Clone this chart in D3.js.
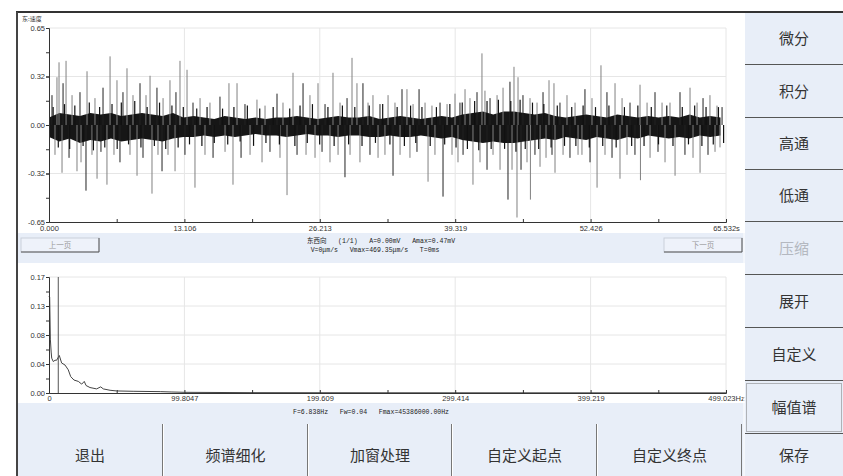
<!DOCTYPE html>
<meta charset="utf-8">
<style>
body { margin: 0; background: #fff; }
svg { display: block; font-family: "Liberation Mono", "Noto Sans CJK SC", monospace; }
.cn { font-family: "Noto Sans CJK SC", sans-serif; }
.info { white-space: pre; }
</style>
<svg width="843" height="476"></svg>
<script src="https://d3js.org/d3.v7.min.js"></script>
<script>
// ---- waveform (top) ----
const waveXTicks = [0, 13.106, 26.213, 39.319, 52.426, 65.532];
const waveXLabels = ["0.000", "13.106", "26.213", "39.319", "52.426", "65.532s"];
const waveYTicks = [-0.65, -0.325, 0, 0.325, 0.65];
const waveYLabels = ["-0.65", "-0.32", "0.00", "0.32", "0.65"];

// dense core of the signal, envelope per second (t = 0..65)
const bandHi = [.05,.08,.07,.06,.08,.07,.08,.06,.07,.08, .07,.06,.08,.05,.06,.05,.04,.06,.05,.04,
  .05,.04,.05,.05,.06,.05,.04,.05,.06,.05, .05,.06,.04,.05,.06,.05,.04,.05,.06,.05,
  .07,.08,.09,.07,.09,.09,.08,.07,.08,.06, .05,.06,.07,.06,.05,.07,.06,.05,.06,.05,
  .06,.05,.07,.05,.06,.05];
const bandLo = [-.08,-.11,-.09,-.12,-.10,-.11,-.09,-.11,-.10,-.09, -.10,-.11,-.09,-.08,-.08,-.07,-.08,-.07,-.08,-.07,
  -.06,-.07,-.07,-.08,-.07,-.06,-.07,-.07,-.08,-.07, -.07,-.08,-.08,-.07,-.08,-.08,-.07,-.08,-.09,-.08,
  -.10,-.11,-.12,-.11,-.12,-.12,-.11,-.10,-.09,-.10, -.08,-.09,-.10,-.08,-.09,-.10,-.08,-.09,-.07,-.08,
  -.09,-.08,-.09,-.07,-.08,-.07];

// positive peaks (s, value)
const upT = [0.29,0.77,0.97,1.36,1.65,2.23,3.00,3.68,4.45,5.23,5.91,6.58,7.16,7.55,8.13,8.81,9.39,9.78,10.45,11.04,
  11.71,12.29,12.68,13.36,13.94,14.62,15.58,16.55,17.42,18.20,18.97,20.13,20.91,22.07,22.65,23.62,24.59,25.26,26.04,26.72,
  27.49,28.17,28.85,29.33,29.81,30.39,30.88,31.36,32.04,32.82,33.49,34.17,34.65,35.24,35.82,36.40,37.07,37.85,38.53,39.30,
  39.78,40.27,40.75,41.43,41.91,42.20,42.69,43.37,43.95,44.62,45.01,45.40,45.88,46.56,47.24,47.82,48.40,48.88,49.46,50.14,
  50.92,51.88,52.56,53.43,54.01,54.79,55.47,56.24,57.21,57.89,58.66,59.34,60.11,61.08,62.05,62.73,63.31,63.98,64.66,65.15];
const upV = [0.20,0.32,0.42,0.28,0.43,0.20,0.22,0.36,0.18,0.25,0.46,0.30,0.22,0.38,0.20,0.28,0.20,0.33,0.25,0.18,
  0.30,0.22,0.43,0.37,0.15,0.18,0.15,0.19,0.28,0.28,0.14,0.17,0.13,0.21,0.15,0.35,0.28,0.20,0.28,0.14,
  0.35,0.15,0.18,0.45,0.28,0.28,0.15,0.20,0.14,0.20,0.15,0.24,0.24,0.14,0.24,0.15,0.13,0.15,0.14,0.21,
  0.15,0.24,0.18,0.22,0.48,0.23,0.18,0.20,0.25,0.29,0.39,0.32,0.20,0.18,0.15,0.22,0.30,0.28,0.15,0.20,
  0.15,0.24,0.18,0.40,0.22,0.28,0.18,0.15,0.27,0.15,0.22,0.15,0.15,0.22,0.25,0.15,0.18,0.20,0.13,0.12];
// negative peaks (s, value)
const dnT = [0.58,1.26,1.94,2.71,3.10,3.58,4.16,4.65,5.03,5.61,6.29,6.87,7.84,8.52,9.10,9.97,10.55,10.94,11.52,12.20,
  13.16,14.13,15.10,15.88,17.04,17.81,18.59,19.46,20.62,21.39,22.36,23.04,24.01,24.88,25.75,26.43,27.20,27.98,28.65,29.14,
  30.10,31.07,31.85,32.52,33.30,33.98,34.94,35.62,36.69,37.36,38.14,39.01,39.59,40.08,41.04,41.72,42.40,42.98,43.66,44.43,
  44.82,45.30,45.69,46.27,46.60,47.04,47.53,48.11,48.69,48.98,49.76,50.43,51.21,51.59,52.37,53.05,53.82,54.50,55.27,55.95,
  56.72,57.25,58.18,58.95,59.63,60.60,61.56,62.34,63.02,63.79,64.47,64.95];
const dnV = [-0.20,-0.32,-0.22,-0.31,-0.25,-0.44,-0.20,-0.36,-0.18,-0.40,-0.20,-0.25,-0.20,-0.34,-0.22,-0.46,-0.20,-0.31,-0.20,-0.31,
  -0.20,-0.42,-0.20,-0.22,-0.18,-0.40,-0.22,-0.20,-0.25,-0.18,-0.22,-0.47,-0.20,-0.20,-0.22,-0.18,-0.25,-0.20,-0.35,-0.20,
  -0.25,-0.20,-0.22,-0.20,-0.34,-0.20,-0.22,-0.18,-0.38,-0.20,-0.48,-0.20,-0.25,-0.20,-0.40,-0.25,-0.30,-0.20,-0.30,-0.50,
  -0.30,-0.62,-0.30,-0.25,-0.50,-0.20,-0.28,-0.22,-0.20,-0.32,-0.20,-0.22,-0.20,-0.20,-0.25,-0.42,-0.20,-0.22,-0.36,-0.20,
  -0.20,-0.37,-0.22,-0.18,-0.25,-0.34,-0.20,-0.22,-0.32,-0.20,-0.18,-0.15];
// short dark excursions just outside the core
const smallT = [0.4,0.9,1.5,2.0,2.5,3.3,3.9,4.3,4.9,5.4,6.1,6.6,7.0,7.7,8.3,8.9,9.5,10.2,10.7,11.3,
  11.9,12.5,13.0,13.6,14.3,14.8,15.3,16.0,16.8,17.3,17.9,18.5,19.2,19.8,20.4,21.0,21.7,22.3,23.3,23.8,
  24.3,25.0,25.5,26.2,27.0,27.6,28.4,29.0,29.6,30.3,31.0,31.6,32.3,33.0,33.7,34.4,35.0,35.5,36.1,36.9,
  37.5,38.3,38.8,39.4,40.0,40.5,41.2,41.6,42.4,42.8,43.5,44.1,44.7,45.2,45.6,46.1,46.8,47.4,47.9,48.6,
  49.2,49.9,50.6,51.0,51.7,52.3,52.9,53.6,54.2,54.9,55.7,56.4,57.0,57.6,58.3,59.0,59.8,60.4,61.3,61.9,
  62.5,63.2,63.6,64.3,64.8,65.3];
const smallV = [0.12,-0.15,0.14,-0.16,0.13,-0.14,0.15,-0.17,0.12,-0.15,0.14,-0.16,0.15,-0.13,0.16,-0.15,0.12,-0.14,0.15,-0.16,
  0.13,-0.15,0.12,-0.13,0.11,-0.14,0.12,-0.12,0.11,-0.13,0.12,-0.11,0.13,-0.14,0.11,-0.12,0.12,-0.13,0.11,-0.14,
  0.13,-0.12,0.14,-0.13,0.12,-0.14,0.13,-0.13,0.12,-0.14,0.13,-0.12,0.14,-0.13,0.12,-0.14,0.13,-0.12,0.12,-0.14,
  0.12,-0.13,0.14,-0.15,0.15,-0.16,0.16,-0.17,0.16,-0.16,0.17,-0.16,0.16,-0.18,0.17,-0.16,0.15,-0.16,0.14,-0.15,
  0.13,-0.14,0.12,-0.14,0.13,-0.15,0.12,-0.14,0.13,-0.15,0.12,-0.14,0.13,-0.14,0.12,-0.13,0.13,-0.14,0.12,-0.13,
  0.13,-0.14,0.12,-0.13,0.12,-0.12];

// ---- amplitude spectrum (bottom) ----
const specXTicks = [0, 99.8047, 199.609, 299.414, 399.219, 499.023];
const specXLabels = ["0", "99.8047", "199.609", "299.414", "399.219", "499.023Hz"];
const specYTicks = [0, 0.0425, 0.085, 0.1275, 0.17];
const specYLabels = ["0.00", "0.04", "0.08", "0.13", "0.17"];
const specF = [0, 0.5, 1.0, 1.6, 2.0, 3.2, 4.4, 5.6, 7.6, 9.3, 11.8, 14.2, 16.0, 18.4, 21.6, 24.1, 26.0, 27.3,
  30.2, 35.1, 38.1, 40.0, 45.0, 49.9, 62, 82, 90, 100, 150, 250, 499];
const specA = [0.142, 0.14, 0.079, 0.06, 0.051, 0.046, 0.048, 0.048, 0.055, 0.044, 0.041, 0.034, 0.024, 0.019, 0.017, 0.013, 0.017, 0.011,
  0.008, 0.006, 0.009, 0.006, 0.004, 0.003, 0.0025, 0.002, 0.0015, 0.001, 0.0005, 0.0003, 0.0002];
const cursorF = 6.838;

const sideButtons = ["微分", "积分", "高通", "低通", "压缩", "展开", "自定义", "幅值谱", "保存"];
const bottomButtons = ["退出", "频谱细化", "加窗处理", "自定义起点", "自定义终点"];

const svg = d3.select("svg");
const panel = "#e8eef8";

// background panels
svg.append("rect").attr("width", 843).attr("height", 476).attr("fill", "#fff");
svg.append("rect").attr("x", 17).attr("y", 233).attr("width", 728).attr("height", 30).attr("fill", panel);
svg.append("rect").attr("x", 17).attr("y", 403).attr("width", 728).attr("height", 73).attr("fill", panel);

// ---- top chart ----
const xW = d3.scaleLinear().domain([0, 65.532]).range([49, 726]),
      yW = d3.scaleLinear().domain([-0.65, 0.65]).range([222, 28]);
const gW = svg.append("g");

gW.append("g").selectAll("line").data(waveXTicks.slice(1)).join("line")
  .attr("x1", d => xW(d)).attr("x2", d => xW(d)).attr("y1", yW(-0.65)).attr("y2", yW(0.65))
  .attr("stroke", "#e6e6e6");
gW.append("g").selectAll("line").data([-0.325, 0.325, 0.65]).join("line")
  .attr("x1", xW(0)).attr("x2", xW(65.532)).attr("y1", d => yW(d)).attr("y2", d => yW(d))
  .attr("stroke", "#e6e6e6");

const band = bandHi.map((h, i) => ({t: Math.min(i, 65.532), hi: h, lo: bandLo[i]}));
gW.append("path").datum(band)
  .attr("fill", "#161616")
  .attr("d", d3.area().x(d => xW(d.t)).y0(d => yW(d.lo)).y1(d => yW(d.hi)));

const peaks = upT.map((t, i) => ({t, v: upV[i]})).concat(dnT.map((t, i) => ({t, v: dnV[i]})));
gW.append("g").selectAll("line").data(peaks).join("line")
  .attr("x1", d => xW(d.t)).attr("x2", d => xW(d.t))
  .attr("y1", yW(0)).attr("y2", d => yW(d.v))
  .attr("stroke", (d, i) => i % 3 === 0 ? "#222" : "#808080")
  .attr("stroke-width", 1);
gW.append("g").selectAll("line").data(smallT).join("line")
  .attr("x1", d => xW(d)).attr("x2", d => xW(d))
  .attr("y1", yW(0)).attr("y2", (d, i) => yW(smallV[i]))
  .attr("stroke", "#111").attr("stroke-width", 1.2);

function minorOf(ticks) {
  return d3.pairs(ticks).map(([a, b]) => (a + b) / 2);
}

gW.append("g").attr("transform", "translate(0,222)")
  .call(d3.axisBottom(xW).tickValues(waveXTicks.concat(minorOf(waveXTicks))).tickSize(-3).tickFormat(""))
  .call(g => g.selectAll("line,path").attr("stroke", "#333"));
gW.append("g").attr("transform", "translate(0,222)")
  .call(d3.axisBottom(xW).tickValues(waveXTicks).tickSize(0).tickPadding(4).tickFormat((d, i) => waveXLabels[i]))
  .call(g => g.select(".domain").remove())
  .call(g => g.selectAll("text").attr("font-size", 7.5).attr("font-family", null).attr("fill", "#333"));
gW.append("g").attr("transform", "translate(49,0)")
  .call(d3.axisLeft(yW).tickValues(waveYTicks.concat(minorOf(waveYTicks))).tickSize(3).tickFormat(""))
  .call(g => g.selectAll("line,path").attr("stroke", "#333"));
gW.append("g").attr("transform", "translate(49,0)")
  .call(d3.axisLeft(yW).tickValues(waveYTicks).tickSize(3).tickPadding(1).tickFormat((d, i) => waveYLabels[i]))
  .call(g => g.select(".domain").remove())
  .call(g => g.selectAll("line").attr("stroke", "#333"))
  .call(g => g.selectAll("text").attr("font-size", 7.5).attr("font-family", null).attr("fill", "#333"));

gW.append("text").attr("class", "cn").attr("x", 22).attr("y", 21)
  .attr("font-size", 6).attr("fill", "#333").text("东:速度");

// middle info bar
function pageButton(x, label) {
  const b = svg.append("g").attr("transform", `translate(${x},238)`);
  b.append("rect").attr("width", 78).attr("height", 14).attr("fill", "#eef2fa").attr("stroke", "#c9cfda");
  b.append("path").attr("d", "M0,14H78V0").attr("fill", "none").attr("stroke", "#555");
  b.append("text").attr("class", "cn").attr("x", 39).attr("y", 10).attr("text-anchor", "middle")
    .attr("font-size", 7.5).attr("fill", "#999").text(label);
}
pageButton(21, "上一页");
pageButton(664, "下一页");

svg.append("text").attr("class", "info").attr("x", 381).attr("y", 243).attr("text-anchor", "middle")
  .attr("font-size", 6.5).attr("fill", "#222").text("东西向   (1/1)   A=0.00mV   Amax=0.47mV");
svg.append("text").attr("class", "info").attr("x", 375).attr("y", 252).attr("text-anchor", "middle")
  .attr("font-size", 6.5).attr("fill", "#222").text("V=0μm/s   Vmax=469.35μm/s   T=0ms");

// ---- bottom chart ----
const xS = d3.scaleLinear().domain([0, 499.023]).range([49, 726]),
      yS = d3.scaleLinear().domain([0, 0.17]).range([393, 277]);
const gS = svg.append("g");

gS.append("g").selectAll("line").data(specXTicks.slice(1)).join("line")
  .attr("x1", d => xS(d)).attr("x2", d => xS(d)).attr("y1", yS(0)).attr("y2", yS(0.17))
  .attr("stroke", "#e6e6e6");
gS.append("g").selectAll("line").data(specYTicks.slice(1)).join("line")
  .attr("x1", xS(0)).attr("x2", xS(499.023)).attr("y1", d => yS(d)).attr("y2", d => yS(d))
  .attr("stroke", "#e6e6e6");

gS.append("path").datum(specF.map((f, i) => ({f, a: specA[i]})))
  .attr("fill", "none").attr("stroke", "#444").attr("stroke-width", 1)
  .attr("d", d3.line().x(d => xS(d.f)).y(d => yS(d.a)));
gS.append("line").attr("x1", xS(cursorF)).attr("x2", xS(cursorF)).attr("y1", yS(0)).attr("y2", yS(0.17))
  .attr("stroke", "#555");

gS.append("g").attr("transform", "translate(0,393)")
  .call(d3.axisBottom(xS).tickValues(specXTicks.concat(minorOf(specXTicks))).tickSize(-3).tickFormat(""))
  .call(g => g.selectAll("line,path").attr("stroke", "#333"));
gS.append("g").attr("transform", "translate(0,393)")
  .call(d3.axisBottom(xS).tickValues(specXTicks).tickSize(0).tickPadding(3).tickFormat((d, i) => specXLabels[i]))
  .call(g => g.select(".domain").remove())
  .call(g => g.selectAll("text").attr("font-size", 7.5).attr("font-family", null).attr("fill", "#333"));
gS.append("g").attr("transform", "translate(49,0)")
  .call(d3.axisLeft(yS).tickValues(specYTicks.concat(minorOf(specYTicks))).tickSize(3).tickFormat(""))
  .call(g => g.selectAll("line,path").attr("stroke", "#333"));
gS.append("g").attr("transform", "translate(49,0)")
  .call(d3.axisLeft(yS).tickValues(specYTicks).tickSize(3).tickPadding(1).tickFormat((d, i) => specYLabels[i]))
  .call(g => g.select(".domain").remove())
  .call(g => g.selectAll("line").attr("stroke", "#333"))
  .call(g => g.selectAll("text").attr("font-size", 7.5).attr("font-family", null).attr("fill", "#333"));

svg.append("text").attr("class", "info").attr("x", 371).attr("y", 414).attr("text-anchor", "middle")
  .attr("font-size", 6.5).attr("fill", "#222").text("F=6.838Hz   Fw=0.04   Fmax=45386000.00Hz");

// ---- buttons ----
const sideY = [12, 64, 117, 169, 221, 274, 327, 380, 433, 476];
svg.append("rect").attr("x", 745).attr("y", 12).attr("width", 98).attr("height", 464).attr("fill", panel);
svg.append("line").attr("x1", 744).attr("x2", 744).attr("y1", 12).attr("y2", 476).attr("stroke", "#fff");
sideButtons.forEach((label, i) => {
  const y0 = sideY[i], y1 = sideY[i + 1];
  if (i > 0) svg.append("line").attr("x1", 745).attr("x2", 843).attr("y1", y0 + 0.5).attr("y2", y0 + 0.5).attr("stroke", "#555");
  if (label === "幅值谱") {
    svg.append("rect").attr("x", 746.5).attr("y", y0 + 3.5).attr("width", 95).attr("height", y1 - y0 - 5)
      .attr("fill", "none").attr("stroke", "#777").attr("stroke-dasharray", "1,1");
  }
  svg.append("text").attr("class", "cn").attr("x", 794).attr("y", (y0 + y1) / 2 + 6)
    .attr("text-anchor", "middle").attr("font-size", 15)
    .attr("fill", label === "压缩" ? "#b4b8c0" : "#333").text(label);
});

const botX = [17, 163, 308, 452, 597, 742];
bottomButtons.forEach((label, i) => {
  const x0 = botX[i], x1 = botX[i + 1];
  if (i > 0) {
    svg.append("line").attr("x1", x0 - 0.5).attr("x2", x0 - 0.5).attr("y1", 424).attr("y2", 476).attr("stroke", "#777");
    svg.append("line").attr("x1", x0 + 0.5).attr("x2", x0 + 0.5).attr("y1", 424).attr("y2", 476).attr("stroke", "#fff");
  }
  svg.append("text").attr("class", "cn").attr("x", (x0 + x1) / 2).attr("y", 461)
    .attr("text-anchor", "middle").attr("font-size", 15).attr("fill", "#333").text(label);
});
svg.append("line").attr("x1", 741.5).attr("x2", 741.5).attr("y1", 424).attr("y2", 476).attr("stroke", "#777");

// frame
svg.append("line").attr("x1", 16).attr("x2", 843).attr("y1", 12).attr("y2", 12).attr("stroke", "#333").attr("stroke-width", 2);
svg.append("line").attr("x1", 17).attr("x2", 17).attr("y1", 12).attr("y2", 476).attr("stroke", "#444").attr("stroke-width", 2);
</script>
